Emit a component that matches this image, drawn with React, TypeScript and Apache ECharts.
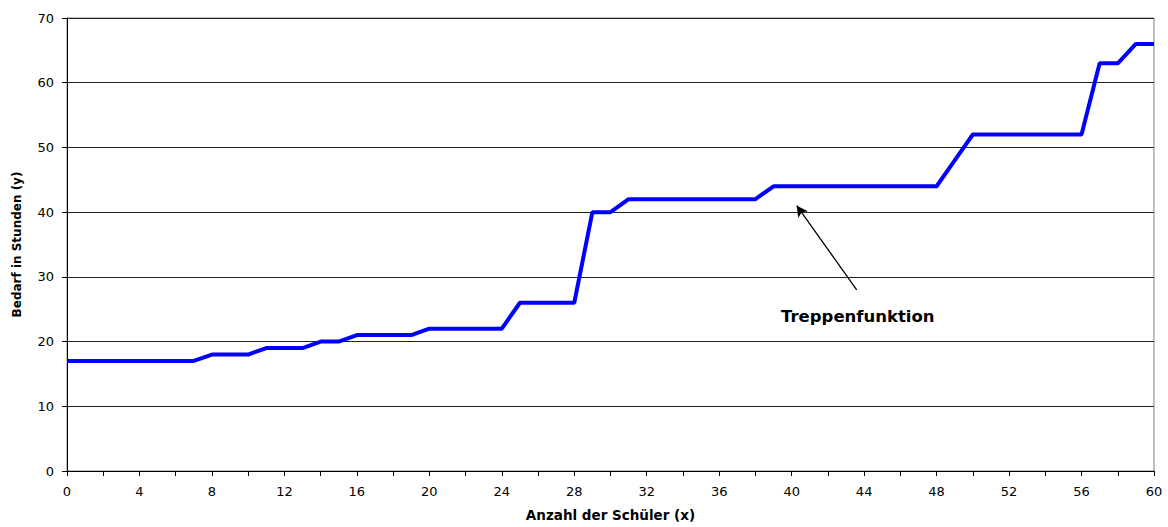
import React, { useEffect, useRef } from "react";
import * as echarts from "echarts";

// Anzahl der Schüler (x)
const xValues = [
  0, 1, 2, 3, 4, 5, 6, 7, 8, 9, 10, 11, 12, 13, 14, 15, 16, 17, 18, 19, 20,
  21, 22, 23, 24, 25, 26, 27, 28, 29, 30, 31, 32, 33, 34, 35, 36, 37, 38, 39,
  40, 41, 42, 43, 44, 45, 46, 47, 48, 49, 50, 51, 52, 53, 54, 55, 56, 57, 58,
  59, 60,
];
// Bedarf in Stunden (y)
const yValues = [
  17, 17, 17, 17, 17, 17, 17, 17, 18, 18, 18, 19, 19, 19, 20, 20, 21, 21, 21,
  21, 22, 22, 22, 22, 22, 26, 26, 26, 26, 40, 40, 42, 42, 42, 42, 42, 42, 42,
  42, 44, 44, 44, 44, 44, 44, 44, 44, 44, 44, 48, 52, 52, 52, 52, 52, 52, 52,
  63, 63, 66, 66,
];

// annotation arrow (data coordinates): from label towards the line
const arrowFrom = [43.59, 28.0];
const arrowTo = [40.28, 41.0];
const annotationText = "Treppenfunktion";

const xAxisTitle = "Anzahl der Schüler (x)";
const yAxisTitle = "Bedarf in Stunden (y)";

export default function App() {
  const ref = useRef<HTMLDivElement>(null);

  useEffect(() => {
    if (!ref.current) return;
    const chart = echarts.init(ref.current, null, { renderer: "svg" });
    const data = xValues.map((x, i) => [x, yValues[i]]);
    chart.setOption({
      animation: false,
      backgroundColor: "#ffffff",
      textStyle: { fontFamily: "DejaVu Sans" },
      grid: {
        left: 67,
        right: 14,
        top: 18,
        bottom: 52,
        show: true,
        borderColor: "#808080",
        borderWidth: 1,
      },
      xAxis: {
        type: "value",
        min: 0,
        max: 60,
        interval: 2,
        name: xAxisTitle,
        nameLocation: "middle",
        nameGap: 37,
        nameTextStyle: {
          fontFamily: "DejaVu Sans",
          fontWeight: "bold",
          fontSize: 13.5,
          color: "#000",
        },
        axisLine: { show: true, lineStyle: { color: "#000", width: 1 } },
        axisTick: {
          show: true,
          inside: false,
          length: 5,
          lineStyle: { color: "#000" },
        },
        axisLabel: {
          margin: 14,
          fontSize: 13,
          fontFamily: "DejaVu Sans",
          color: "#000",
          formatter: (v: number) => (v % 4 === 0 ? String(v) : ""),
        },
        splitLine: { show: false },
      },
      yAxis: {
        type: "value",
        min: 0,
        max: 70,
        interval: 10,
        name: yAxisTitle,
        nameLocation: "middle",
        nameGap: 44,
        nameTextStyle: {
          fontFamily: "DejaVu Sans",
          fontWeight: "bold",
          fontSize: 12,
          color: "#000",
        },
        axisLine: { show: true, lineStyle: { color: "#000", width: 1 } },
        axisTick: {
          show: true,
          inside: false,
          length: 5,
          lineStyle: { color: "#000" },
        },
        axisLabel: {
          margin: 13,
          fontSize: 13,
          fontFamily: "DejaVu Sans",
          color: "#000",
        },
        splitLine: { show: true, lineStyle: { color: "#222", width: 1 } },
      },
      series: [
        {
          type: "line",
          data,
          showSymbol: false,
          symbol: "none",
          lineStyle: { color: "#0000ff", width: 4 },
          itemStyle: { color: "#0000ff" },
          markLine: {
            silent: true,
            symbol: ["none", "arrow"],
            symbolSize: [9, 11],
            label: { show: false },
            lineStyle: { color: "#000", width: 1.3, type: "solid" },
            data: [
              [
                { coord: arrowFrom, symbol: "none" },
                { coord: arrowTo, symbol: "arrow" },
              ],
            ],
          },
        },
      ],
      graphic: [
        {
          type: "text",
          left: 781,
          top: 308,
          style: {
            text: annotationText,
            font: "bold 16.5px 'DejaVu Sans'",
            fill: "#000",
          },
        },
      ],
    });
    return () => chart.dispose();
  }, []);

  return (
    <div
      ref={ref}
      style={{ position: "absolute", left: 0, top: 0, width: 1168, height: 527 }}
    />
  );
}
